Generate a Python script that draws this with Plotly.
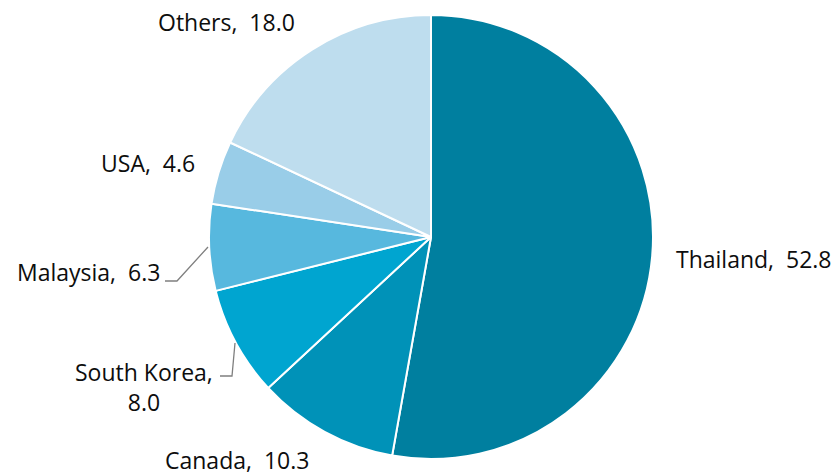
import plotly.graph_objects as go

# Share by country (%)
countries = ["Thailand", "Canada", "South Korea", "Malaysia", "USA", "Others"]
shares = [52.8, 10.3, 8.0, 6.3, 4.6, 18.0]
colors = ["#007F9F", "#0092B8", "#00A5D0", "#57B8DE", "#99CDE8", "#BEDDEE"]

W, H = 835, 476
cx, cy, r = 431, 237, 222  # pie centre and radius in pixels


def px(x):
    return x / W


def py(y):
    return 1 - y / H


fig = go.Figure(
    go.Pie(
        labels=countries,
        values=shares,
        sort=False,
        direction="clockwise",
        rotation=0,
        textinfo="none",
        hoverinfo="label+value",
        marker=dict(colors=colors, line=dict(color="white", width=2)),
        domain=dict(x=[px(cx - r), px(cx + r)], y=[py(cy + r), py(cy - r)]),
        showlegend=False,
    )
)

# label text and anchor positions (pixels)
label_pos = {
    "Thailand": (675, 259, "left"),
    "Canada": (164, 460, "left"),
    "South Korea": (214, 387, "right"),
    "Malaysia": (161, 272, "right"),
    "USA": (196, 163, "right"),
    "Others": (296, 22, "right"),
}

annotations = []
for name, val in zip(countries, shares):
    x, y, anchor = label_pos[name]
    if name == "South Korea":
        text = f"South Korea,<br>{val:.1f}"
        align = "center"
    else:
        text = f"{name},&nbsp; {val:.1f}"
        align = anchor
    annotations.append(
        dict(
            x=px(x), y=py(y), xref="paper", yref="paper",
            text=text, showarrow=False, xanchor=anchor, yanchor="middle",
            align=align, borderpad=0,
            font=dict(family="Open Sans, Noto Sans, sans-serif", size=23, color="#0D0D0D"),
        )
    )

# leader lines for the small slices
leader = dict(color="#7F7F7F", width=1.3)
shapes = [
    dict(type="path", xref="paper", yref="paper",
         path=f"M {px(165)},{py(281)} L {px(177)},{py(281)} L {px(208)},{py(247)}",
         line=leader),
    dict(type="path", xref="paper", yref="paper",
         path=f"M {px(220)},{py(376)} L {px(232)},{py(376)} L {px(235)},{py(343)}",
         line=leader),
]

fig.update_layout(
    width=W, height=H,
    margin=dict(l=0, r=0, t=0, b=0),
    paper_bgcolor="white",
    plot_bgcolor="white",
    annotations=annotations,
    shapes=shapes,
)

fig.write_html("out.html")
